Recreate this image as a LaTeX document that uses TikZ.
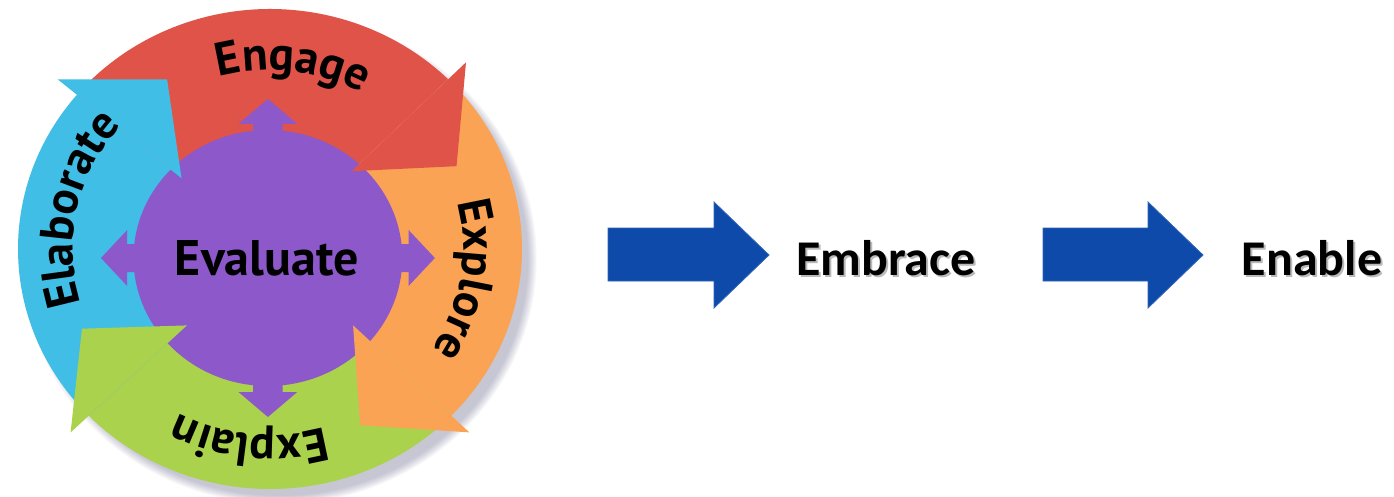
\documentclass[tikz,border=0pt]{standalone}
\usepackage{fontspec}
\setmainfont{Carlito}
\newfontfamily\circfont{PT Sans}
\usetikzlibrary{decorations.text}
\definecolor{cred}{RGB}{224,83,72}
\definecolor{corange}{RGB}{251,163,84}
\definecolor{cgreen}{RGB}{170,210,76}
\definecolor{cblue}{RGB}{64,190,230}
\definecolor{cpurple}{RGB}{140,88,202}
\definecolor{carrow}{RGB}{14,74,170}
\newcommand\arcfnt{\circfont\bfseries\fontsize{47}{47}\selectfont}
\begin{document}
\begin{tikzpicture}[x=1pt,y=1pt,
  bigarrow/.style={fill=carrow, draw=carrow!85!white, line width=0.8pt},
  word/.style={font=\bfseries\fontsize{50}{50}\selectfont, inner sep=0pt},
  wordshadow/.style={word, text=black!45, opacity=0.6},
  arctext/.style={decorate, decoration={text along path, text align=center, text={|\arcfnt|#1}}}]
\useasboundingbox (0,0) rectangle (1394,-497);
\fill[white] (0,0) rectangle (1394,-497);

\begin{scope}[shift={(270,-249)}, xscale=1.05]
  % soft shadow (lower right)
  \foreach \i in {1,...,10}
    \fill[black!50!blue!35!gray, opacity=0.035] (9,-10) circle[radius=236pt+\i*0.9pt];
  % bands
  \foreach \col/\a/\b in {cred/140/45, corange/45/-44, cgreen/-44/-136, cblue/-136/-220}
    \fill[\col] (\a:240pt) arc[start angle=\a, end angle=\b, radius=240pt]
      -- (\b:115pt) arc[start angle=\b, end angle=\a, radius=115pt] -- cycle;
  % centre disc
  \fill[cpurple] (-2,-9) circle[radius=128pt];
  % arrow heads
  \foreach \col/\b in {cred/45, corange/-44, cgreen/-136, cblue/-220}
    \fill[\col] (\b:264pt) -- ({\b-20}:196pt) -- (\b:110pt) -- cycle;
  % purple arrows
  \foreach \d in {0,90,180,270}
    \fill[cpurple, shift={(-2,-9)}, rotate=\d]
      (100,-14) -- (134,-14) -- (134,-28) -- (159,0) -- (134,28) -- (134,14) -- (100,14) -- cycle;
  % labels
  \path[arctext=Engage] (133:179pt) arc[start angle=133, end angle=33, radius=179pt];
  \path[arctext=Explore] (41:184pt) arc[start angle=41, end angle=-59, radius=184pt];
  \path[arctext=Explain] (-46:186pt) arc[start angle=-46, end angle=-146, radius=186pt];
  \path[arctext=Elaborate] (220:188pt) arc[start angle=220, end angle=116, radius=188pt];
  \node[font=\circfont\bfseries\fontsize{50}{50}\selectfont, inner sep=0pt] (eval) at (-3,-9) {Evaluate};
\end{scope}

% right-hand arrows and words
\fill[bigarrow] (608,-228) -- (714,-228) -- (714,-202) -- (769,-255) -- (714,-308) -- (714,-281) -- (608,-281) -- cycle;
\fill[bigarrow] (1043,-228) -- (1148,-228) -- (1148,-202) -- (1203,-255) -- (1148,-308) -- (1148,-281) -- (1043,-281) -- cycle;
\node[wordshadow] at (888,-260.5) {Embrace};
\node[word] (embrace) at (886,-258) {Embrace};
\node[wordshadow] at (1314,-260.5) {Enable};
\node[word] (enable) at (1312,-258) {Enable};
\end{tikzpicture}
\end{document}
